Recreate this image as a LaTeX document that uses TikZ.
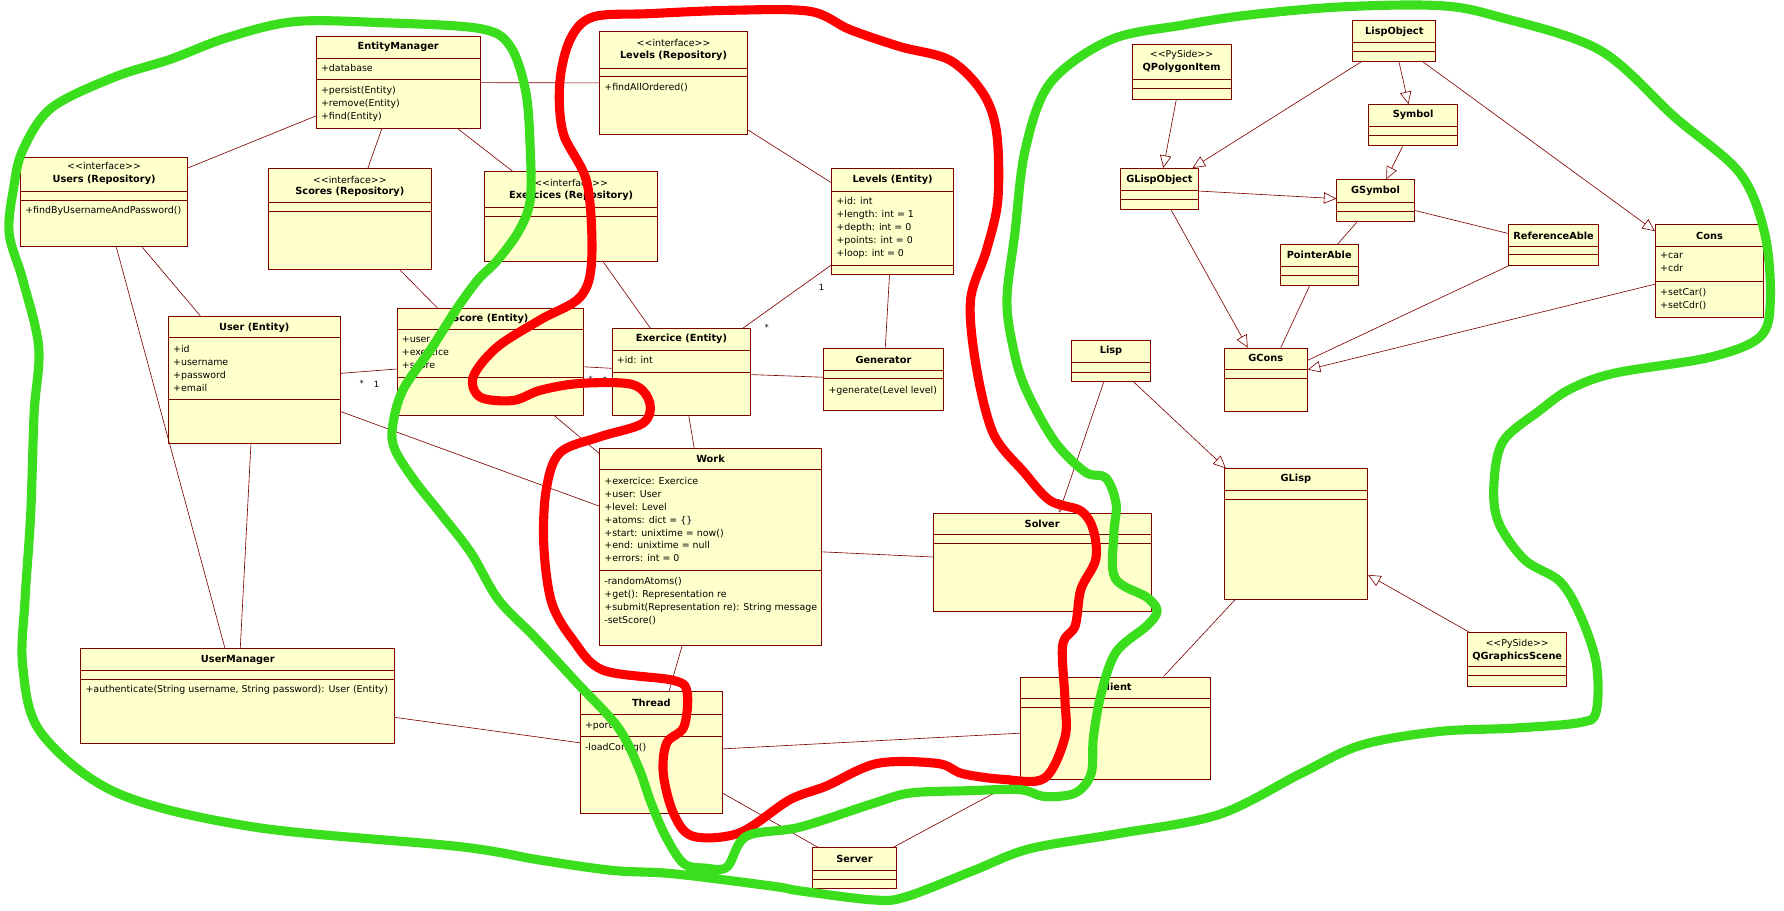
\documentclass[tikz,border=0pt]{standalone}
\usepackage{fontspec}
\setmainfont{DejaVu Sans}
\usetikzlibrary{arrows.meta}
\definecolor{boxfill}{RGB}{255,255,204}
\definecolor{boxline}{RGB}{128,0,0}
\definecolor{hgreen}{RGB}{58,222,28}
\definecolor{hred}{RGB}{255,0,0}
\tikzset{
 cls/.style={draw=boxline, fill=boxfill, line width=0.8pt, inner sep=0pt, rectangle},
 sep/.style={draw=boxline, line width=0.8pt},
 ttl/.style={font=\fontsize{8.6}{10}\selectfont\bfseries, inner sep=0pt},
 ster/.style={font=\fontsize{8.3}{10}\selectfont, inner sep=0pt},
 txt/.style={font=\fontsize{8.3}{11.4}\selectfont, inner sep=0pt, align=left, anchor=north west, yshift=0.5pt},
 assoc/.style={draw=boxline, line width=0.55pt},
 genz/.style={assoc, -{Triangle[open, length=11pt, width=10pt, fill=white]}},
 mult/.style={font=\fontsize{7.5}{8}\selectfont, inner sep=0pt},
 greenpen/.style={draw=hgreen, line width=8pt, line join=round, line cap=round},
 redpen/.style={draw=hred, line width=8pt, line join=round, line cap=round},
}
\newcommand\clsbox[7]{%
 \node[cls, minimum width={(#4-#2)*1pt}, minimum height={(#5-#3)*1pt}] (#1) at ({(#2+#4)/2},{(#3+#5)/2}) {};
 \draw[sep] (#2,#6) -- (#4,#6);
 \draw[sep] (#2,#7) -- (#4,#7);}
\newcommand\stereo[1]{<\kern0pt<#1>\kern0pt>}
\begin{document}
\begin{tikzpicture}[x=1pt,y=-1pt]
\useasboundingbox (0,0) rectangle (1568,800);
\fill[white] (0,0) rectangle (1568,800);

% ---------- classes ----------
\clsbox{em}{278}{32}{422}{113}{51}{70}
\node[ttl] (em-t) at (350,41) {EntityManager};
\node[txt] (em-a) at (282,56.5) {+database};
\node[txt] (em-m) at (282,76.5) {+persist(Entity)\\+remove(Entity)\\+find(Entity)};

\clsbox{lr}{527}{28}{657}{118}{60}{67}
\node[ster] (lr-s) at (592,38) {\stereo{interface}};
\node[ttl] (lr-t) at (592,49) {Levels (Repository)};
\node[txt] (lr-m) at (531,73.5) {+findAllOrdered()};

\clsbox{ur}{18}{138}{165}{217}{168}{176}
\node[ster] (ur-s) at (91.5,146) {\stereo{interface}};
\node[ttl] (ur-t) at (91.5,158) {Users (Repository)};
\node[txt] (ur-m) at (22,181.5) {+findByUsernameAndPassword()};

\clsbox{sr}{236}{148}{379}{237}{178}{186}
\node[ster] (sr-s) at (307.5,158) {\stereo{interface}};
\node[ttl] (sr-t) at (307.5,169) {Scores (Repository)};

\clsbox{xr}{426}{151}{578}{230}{182}{190}
\node[ster] (xr-s) at (502,161) {\stereo{interface}};
\node[ttl] (xr-t) at (502,172) {Exercices (Repository)};

\clsbox{le}{731}{148}{838}{241}{168}{233}
\node[ttl] (le-t) at (784.5,158) {Levels (Entity)};
\node[txt] (le-a) at (735,173.5) {+id: int\\+length: int = 1\\+depth: int = 0\\+points: int = 0\\+loop: int = 0};

\clsbox{ue}{148}{278}{299}{390}{297}{351}
\node[ttl] (ue-t) at (223.5,288) {User (Entity)};
\node[txt] (ue-a) at (152,303.5) {+id\\+username\\+password\\+email};

\clsbox{se}{349}{271}{513}{365}{290}{332}
\node[ttl] (se-t) at (431,280) {Score (Entity)};
\node[txt] (se-a) at (353,296.5) {+user\\+exercice\\+score};

\clsbox{xe}{538}{289}{660}{365}{308}{327}
\node[ttl] (xe-t) at (599,298) {Exercice (Entity)};
\node[txt] (xe-a) at (542,313.5) {+id: int};

\clsbox{gen}{724}{306}{829}{361}{326}{333}
\node[ttl] (gen-t) at (776.5,316) {Generator};
\node[txt] (gen-m) at (728,339.5) {+generate(Level level)};

\clsbox{wk}{527}{394}{722}{567}{413}{501}
\node[ttl] (wk-t) at (624.5,403) {Work};
\node[txt] (wk-a) at (531,419.5) {+exercice: Exercice\\+user: User\\+level: Level\\+atoms: dict = \{\}\\+start: unixtime = now()\\+end: unixtime = null\\+errors: int = 0};
\node[txt] (wk-m) at (531,507.5) {-randomAtoms()\\+get(): Representation re\\+submit(Representation re): String message\\-setScore()};

\clsbox{sv}{820}{451}{1012}{537}{470}{478}
\node[ttl] (sv-t) at (916,460) {Solver};

\clsbox{um}{71}{570}{347}{653}{589}{597}
\node[ttl] (um-t) at (209,580) {UserManager};
\node[txt] (um-m) at (75,602.5) {+authenticate(String username, String password): User (Entity)};

\clsbox{th}{510}{608}{635}{715}{628}{647}
\node[ttl] (th-t) at (572.5,618) {Thread};
\node[txt] (th-a) at (514,634.5) {+port};
\node[txt] (th-m) at (514,653.5) {-loadConfig()};

\clsbox{cl}{897}{595}{1064}{685}{614}{622}
\node[ttl] (cl-t) at (980.5,604) {Client};

\clsbox{srv}{714}{745}{788}{781}{765}{773}
\node[ttl] (srv-t) at (751,755) {Server};

\clsbox{lo}{1189}{18}{1262}{54}{37}{45}
\node[ttl] (lo-t) at (1225.5,28) {LispObject};

\clsbox{qp}{995}{39}{1082}{87}{70}{78}
\node[ster] (qp-s) at (1038.5,48) {\stereo{PySide}};
\node[ttl] (qp-t) at (1038.5,60) {QPolygonItem};

\clsbox{sy}{1203}{92}{1281}{128}{111}{119}
\node[ttl] (sy-t) at (1242,101) {Symbol};

\clsbox{glo}{985}{148}{1053}{184}{167}{175}
\node[ttl] (glo-t) at (1019,158) {GLispObject};

\clsbox{gsy}{1175}{158}{1243}{195}{178}{186}
\node[ttl] (gsy-t) at (1209,168) {GSymbol};

\clsbox{pa}{1125}{215}{1194}{251}{234}{242}
\node[ttl] (pa-t) at (1159.5,224) {PointerAble};

\clsbox{ra}{1326}{197}{1405}{233}{217}{224}
\node[ttl] (ra-t) at (1365.5,207) {ReferenceAble};

\clsbox{cons}{1455}{197}{1550}{279}{217}{247}
\node[ttl] (cons-t) at (1502.5,207) {Cons};
\node[txt] (cons-a) at (1459,222.5) {+car\\+cdr};
\node[txt] (cons-m) at (1459,253.5) {+setCar()\\+setCdr()};

\clsbox{gc}{1076}{306}{1149}{362}{325}{333}
\node[ttl] (gc-t) at (1112.5,315) {GCons};

\clsbox{lisp}{942}{299}{1011}{335}{319}{327}
\node[ttl] (lisp-t) at (976.5,308) {Lisp};

\clsbox{gl}{1076}{412}{1202}{527}{431}{439}
\node[ttl] (gl-t) at (1139,421) {GLisp};

\clsbox{qg}{1290}{556}{1377}{603}{586}{594}
\node[ster] (qg-s) at (1333.5,566) {\stereo{PySide}};
\node[ttl] (qg-t) at (1333.5,577) {QGraphicsScene};

% ---------- connectors ----------
\draw[assoc] (em) -- (lr);
\draw[assoc] (em) -- (ur);
\draw[assoc] (em) -- (sr);
\draw[assoc] (em) -- (xr);
\draw[assoc] (ur) -- (ue);
\draw[assoc] (ur) -- (um);
\draw[assoc] (sr) -- (se);
\draw[assoc] (xr) -- (xe);
\draw[assoc] (lr) -- (le);
\draw[assoc] (le) -- (xe);
\draw[assoc] (le) -- (gen);
\draw[assoc] (ue) -- (se);
\draw[assoc] (se) -- (xe);
\draw[assoc] (xe) -- (gen);
\draw[assoc] (xe) -- (wk);
\draw[assoc] (se) -- (wk);
\draw[assoc] (ue) -- (wk);
\draw[assoc] (ue) -- (um);
\draw[assoc] (wk) -- (sv);
\draw[assoc] (wk) -- (th);
\draw[assoc] (um) -- (th);
\draw[assoc] (th) -- (cl);
\draw[assoc] (th) -- (srv);
\draw[assoc] (cl) -- (srv);
\draw[assoc] (gl) -- (cl);
\draw[assoc] (gsy) -- (pa);
\draw[assoc] (gsy) -- (ra);
\draw[assoc] (pa) -- (gc);
\draw[assoc] (ra) -- (gc);
\draw[genz] (qp) -- (glo);
\draw[genz] (lo) -- (glo);
\draw[genz] (lo) -- (sy);
\draw[genz] (lo) -- (cons);
\draw[genz] (sy) -- (gsy);
\draw[genz] (glo) -- (gsy);
\draw[genz] (glo) -- (gc);
\draw[genz] (cons) -- (gc);
\draw[genz] (lisp) -- (sv);
\draw[genz] (lisp) -- (gl);
\draw[genz] (qg) -- (gl);

\node[mult] (m1) at (722,253) {1};
\node[mult] (m2) at (674,288) {*};
\node[mult] (m3) at (318,337) {*};
\node[mult] (m4) at (331,338) {1};
\node[mult] (m5) at (519,333) {*};
\node[mult] (m6) at (532,334) {1};

% ---------- freehand outlines ----------
\draw[redpen] plot[smooth cycle, tension=0.55] coordinates {
(521,15) (571,12) (644,9) (712,10) (747,26) (791,41) (835,53) (864,82) (876,117)
(877,176) (867,220) (853,264) (858,322) (873,381) (900,415) (923,440) (950,449)
(961,466) (963,492) (950,518) (945,550) (934,567) (936,615) (936,648) (918,684)
(882,685) (846,680) (824,671) (771,671) (726,691) (694,703) (650,732) (609,735)
(592,715) (583,680) (586,653) (601,639) (604,609) (592,598) (530,589) (504,563)
(485,530) (478,480) (480,431) (492,398) (527,384) (565,372) (571,354) (556,338)
(510,337) (475,343) (451,352) (422,349) (416,331) (437,305) (475,281) (510,261)
(520,229) (516,161) (495,117) (492,73) (501,35)};

\draw[greenpen] plot[smooth cycle, tension=0.55] coordinates {
(20,132) (45,95) (100,68) (150,52) (200,33) (259,19) (337,20) (421,25) (448,40)
(462,80) (466,130) (466,176) (456,203) (437,229) (420,246) (401,272) (380,305)
(354,343) (345,375) (347,395) (364,422) (387,451) (414,486) (438,527) (470,560)
(507,600) (543,639) (561,674) (572,705) (585,735) (601,759) (620,763) (639,762)
(656,735) (703,727) (768,706) (800,697) (850,695) (896,694) (918,700) (945,697)
(959,680) (961,648) (968,609) (981,573) (1008,550) (1017,537) (1008,525) (980,508)
(979,469) (981,443) (972,420) (954,415) (927,388) (902,343) (891,308) (885,264)
(892,205) (901,132) (923,73) (976,35) (1040,22) (1099,13) (1180,6) (1266,5)
(1318,15) (1406,44) (1472,103) (1529,152) (1551,205) (1556,264) (1547,296)
(1503,314) (1419,328) (1380,342) (1353,361) (1321,388) (1313,426) (1317,459)
(1340,492) (1371,511) (1389,541) (1403,583) (1403,625) (1389,635) (1330,640)
(1264,643) (1196,655) (1143,680) (1071,716) (981,733) (905,746) (856,765)
(797,788) (768,791) (703,783) (680,779) (592,768) (538,765) (475,756) (403,744)
(224,727) (103,697) (36,644) (20,586) (22,527) (27,451) (30,363) (34,305)
(20,246) (8,205) (12,165)};
\end{tikzpicture}
\end{document}
